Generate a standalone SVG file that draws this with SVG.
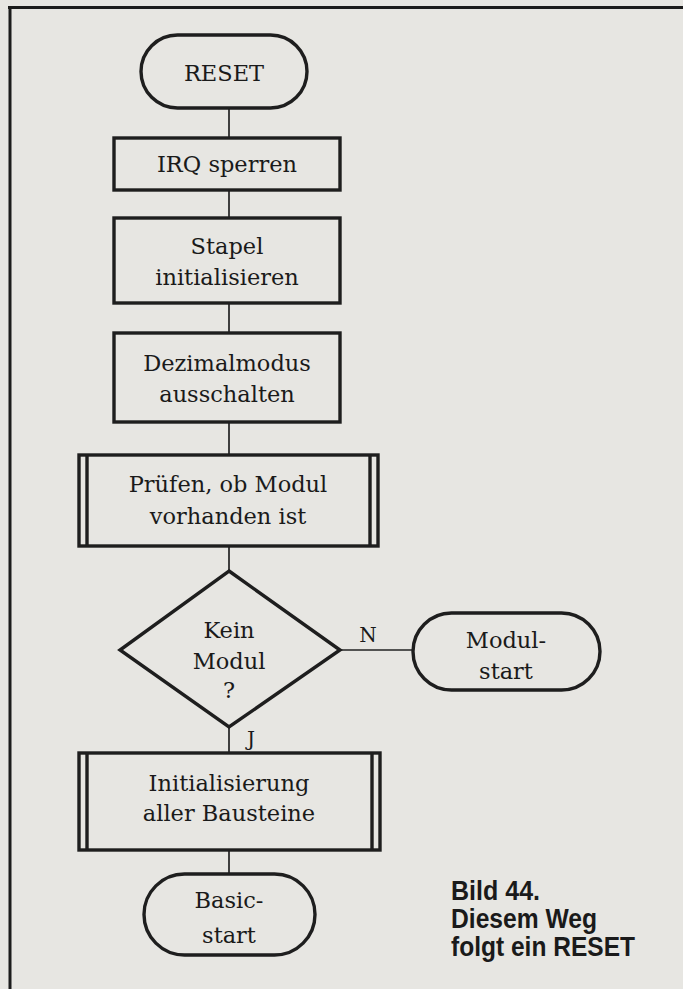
<svg xmlns="http://www.w3.org/2000/svg" width="683" height="989" viewBox="0 0 683 989">
<style>
.bg{fill:#e7e6e2}
.frame{stroke:#1c1c1c;stroke-width:3;fill:none}
.box{fill:none;stroke:#1e1e1e;stroke-width:3.4}
.dbl{stroke:#1e1e1e;stroke-width:3.4}
.conn{stroke:#222;stroke-width:1.7;fill:none}
.t{font-family:"DejaVu Serif","Liberation Serif",serif;font-size:22.5px;fill:#1a1a1a;text-anchor:middle}
.lbl{font-family:"DejaVu Serif","Liberation Serif",serif;font-size:20px;fill:#1a1a1a;text-anchor:middle}
.cap{font-family:"Liberation Sans",Arial,sans-serif;font-weight:bold;font-size:28px;fill:#1a1a1a}
</style>
<rect class="bg" x="0" y="0" width="683" height="989"/>
<g id="frame">
<line class="frame" x1="8" y1="7.5" x2="683" y2="7.5"/>
<line class="frame" x1="10" y1="6" x2="10" y2="989"/>
</g>
<g id="connectors">
<line class="conn" x1="229" y1="108" x2="229" y2="137"/>
<line class="conn" x1="229" y1="190" x2="229" y2="218"/>
<line class="conn" x1="229" y1="303" x2="229" y2="333"/>
<line class="conn" x1="229" y1="422" x2="229" y2="454"/>
<line class="conn" x1="229" y1="546" x2="229" y2="571"/>
<line class="conn" x1="340" y1="650" x2="413" y2="650"/>
<line class="conn" x1="229" y1="727" x2="229" y2="752"/>
<line class="conn" x1="229" y1="850" x2="229" y2="874"/>
<text class="lbl" x="368" y="642">N</text>
<text class="lbl" x="251" y="746">J</text>
</g>
<g id="reset">
<rect class="box" x="141" y="35" width="166" height="73" rx="36.5"/>
<text class="t" x="224" y="81">RESET</text>
</g>
<g id="irq">
<rect class="box" x="114" y="138" width="226" height="52"/>
<text class="t" x="227" y="172">IRQ sperren</text>
</g>
<g id="stapel">
<rect class="box" x="114" y="218" width="226" height="85"/>
<text class="t" x="227" y="254">Stapel</text>
<text class="t" x="227" y="285">initialisieren</text>
</g>
<g id="dezimal">
<rect class="box" x="114" y="333" width="226" height="89"/>
<text class="t" x="227" y="371">Dezimalmodus</text>
<text class="t" x="227" y="402">ausschalten</text>
</g>
<g id="pruefen">
<rect class="box" x="79" y="455" width="299" height="91"/>
<line class="dbl" x1="87" y1="455" x2="87" y2="546"/>
<line class="dbl" x1="370" y1="455" x2="370" y2="546"/>
<text class="t" x="228" y="492">Prüfen, ob Modul</text>
<text class="t" x="228" y="524">vorhanden ist</text>
</g>
<g id="decision">
<polygon class="box" points="229,571 340,650 229,727 120,650"/>
<text class="t" x="229" y="638">Kein</text>
<text class="t" x="229" y="669">Modul</text>
<text class="t" x="229" y="698">?</text>
</g>
<g id="modulstart">
<rect class="box" x="413" y="613" width="187" height="77" rx="38.5"/>
<text class="t" x="506" y="648">Modul-</text>
<text class="t" x="506" y="679">start</text>
</g>
<g id="init">
<rect class="box" x="79" y="753" width="301" height="97"/>
<line class="dbl" x1="87" y1="753" x2="87" y2="850"/>
<line class="dbl" x1="372" y1="753" x2="372" y2="850"/>
<text class="t" x="229" y="791">Initialisierung</text>
<text class="t" x="229" y="821">aller Bausteine</text>
</g>
<g id="basicstart">
<rect class="box" x="144" y="874" width="171" height="81" rx="40.5"/>
<text class="t" x="229" y="908">Basic-</text>
<text class="t" x="229" y="943">start</text>
</g>
<g id="caption">
<text class="cap" x="451" y="900" textLength="89" lengthAdjust="spacingAndGlyphs">Bild 44.</text>
<text class="cap" x="451" y="928" textLength="146" lengthAdjust="spacingAndGlyphs">Diesem Weg</text>
<text class="cap" x="451" y="956" textLength="184" lengthAdjust="spacingAndGlyphs">folgt ein RESET</text>
</g>
</svg>
